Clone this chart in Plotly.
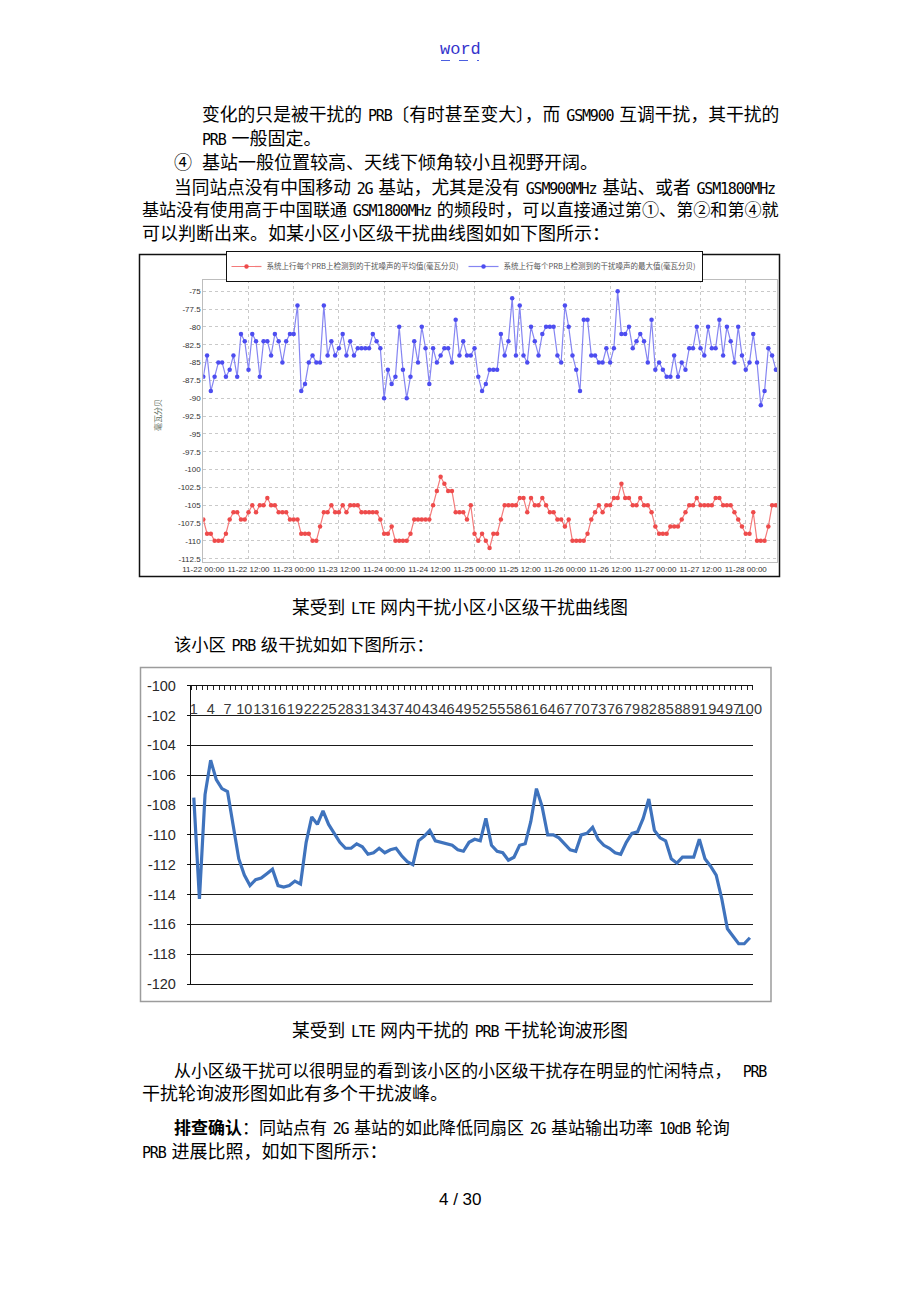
import re
import pandas as pd
import plotly.graph_objects as go

W, H = 920, 1302

# ---------------- Chart 1 data: hourly cell-level interference ----------------
start_time = "2014-11-22 00:00"
avg_dbm = [
    -107, -109, -109, -110, -110, -110, -109, -107, -106, -106, -107, -107,
    -106, -105, -106, -105, -105, -104, -105, -105, -106, -106, -106, -107,
    -107, -107, -109, -109, -109, -110, -110, -108, -106, -106, -105, -106,
    -106, -105, -106, -105, -105, -105, -106, -106, -106, -106, -106, -107,
    -109, -109, -108, -110, -110, -110, -110, -109, -107, -107, -107, -107,
    -107, -105, -103, -101, -102, -103, -103, -106, -106, -106, -107, -105,
    -109, -110, -109, -110, -111, -109, -109, -107, -105, -105, -105, -105,
    -104, -104, -106, -104, -105, -105, -104, -105, -106, -106, -107, -107,
    -108, -107, -110, -110, -110, -110, -109, -107, -106, -105, -106, -105,
    -105, -104, -104, -102, -104, -104, -105, -105, -104, -105, -105, -106,
    -108, -109, -109, -109, -108, -108, -108, -107, -106, -105, -105, -104,
    -105, -105, -105, -105, -104, -104, -105, -105, -105, -106, -107, -108,
    -109, -109, -106, -110, -110, -110, -108, -105, -105,
]
max_dbm = [
    -87, -84, -89, -87, -85, -85, -87, -86, -84, -87, -81, -82,
    -86, -81, -82, -87, -82, -82, -84, -81, -82, -85, -82, -81,
    -81, -77, -89, -88, -85, -84, -85, -85, -77, -84, -82, -84,
    -83, -81, -84, -82, -84, -83, -83, -83, -83, -81, -82, -83,
    -90, -86, -88, -87, -80, -86, -90, -87, -82, -85, -80, -83,
    -88, -83, -85, -84, -83, -83, -85, -79, -84, -82, -84, -84,
    -83, -87, -89, -88, -86, -86, -86, -81, -84, -82, -76, -84,
    -77, -84, -85, -80, -82, -84, -81, -80, -80, -80, -84, -85,
    -77, -80, -84, -86, -89, -79, -79, -84, -84, -85, -85, -83,
    -85, -83, -75, -81, -81, -80, -83, -82, -81, -82, -85, -79,
    -86, -85, -86, -87, -87, -84, -87, -85, -86, -83, -83, -80,
    -83, -84, -80, -83, -83, -79, -84, -80, -82, -85, -80, -84,
    -86, -85, -81, -85, -91, -89, -83, -84, -86,
]
series1_names = [
    "系统上行每个PRB上检测到的干扰噪声的平均值(毫瓦分贝)",
    "系统上行每个PRB上检测到的干扰噪声的最大值(毫瓦分贝)",
]
c1_ytick_vals = [-75, -77.5, -80, -82.5, -85, -87.5, -90, -92.5, -95, -97.5,
                 -100, -102.5, -105, -107.5, -110, -112.5]
c1_ytick_text = ["-75", "-77.5", "-80", "-82.5", "-85", "-87.5", "-90", "-92.5",
                 "-95", "-97.5", "-100", "-102.5", "-105", "-107.5", "-110", "-112.5"]
c1_ytitle = "毫瓦分贝"

# ---------------- Chart 2 data: PRB-level interference ----------------
prb_index = list(range(1, 101))
prb_dbm = [
    -107.5, -114.3, -107.3, -105.0, -106.3, -106.9, -107.1, -109.5, -111.6, -112.7,
    -113.4, -113.0, -112.9, -112.6, -112.3, -113.4, -113.5, -113.4, -113.1, -113.3,
    -110.5, -108.8, -109.3, -108.4, -109.3, -109.9, -110.5, -110.9, -110.9, -110.6,
    -110.8, -111.3, -111.2, -110.9, -111.2, -111.0, -110.9, -111.4, -111.8, -112.0,
    -110.4, -110.1, -109.7, -110.4, -110.5, -110.6, -110.7, -111.0, -111.1, -110.5,
    -110.3, -110.4, -108.9, -110.7, -111.1, -111.2, -111.7, -111.5, -110.7, -110.6,
    -109.1, -106.9, -108.1, -110.0, -110.0, -110.2, -110.6, -111.0, -111.1, -110.0,
    -109.9, -109.5, -110.3, -110.7, -110.9, -111.2, -111.3, -110.5, -109.9, -109.8,
    -108.9, -107.6, -109.7, -110.2, -110.4, -111.6, -111.9, -111.5, -111.5, -111.5,
    -110.3, -111.6, -112.1, -112.7, -114.3, -116.3, -116.8, -117.3, -117.3, -116.9,
]
prb_tick_vals = [1, 4, 7, 10, 13, 16, 19, 22, 25, 28, 31, 34, 37, 40, 43, 46, 49,
                 52, 55, 58, 61, 64, 67, 70, 73, 76, 79, 82, 85, 88, 91, 94, 97, 100]
prb_tick_text = ["1", "4", "7", "10", "13", "16", "19", "22", "25", "28", "31", "34",
                 "37", "40", "43", "46", "49", "52", "55", "58", "61", "64", "67", "70",
                 "73", "76", "79", "82", "85", "88", "91", "94", "97", "100"]
c2_ytick_vals = [-100, -102, -104, -106, -108, -110, -112, -114, -116, -118, -120]
c2_ytick_text = ["-100", "-102", "-104", "-106", "-108", "-110", "-112", "-114",
                 "-116", "-118", "-120"]

# ---------------- Page text ----------------
header_text = "word"
body_lines = [
    # (text, x_px, y_px, cjk_size)
    ("变化的只是被干扰的 PRB〔有时甚至变大〕，而 GSM900 互调干扰，其干扰的", 200, 113, 17.8),
    ("PRB 一般固定。", 200, 137, 18),
    ("④", 172, 161, 18),
    ("基站一般位置较高、天线下倾角较小且视野开阔。", 200, 161, 18),
    ("当同站点没有中国移动 2G 基站，尤其是没有 GSM900MHz 基站、或者 GSM1800MHz", 172, 186, 17.7),
    ("基站没有使用高于中国联通 GSM1800MHz 的频段时，可以直接通过第①、第②和第④就", 140, 209, 17.1),
    ("可以判断出来。如某小区小区级干扰曲线图如如下图所示：", 140, 232, 18),
    ("该小区 PRB 级干扰如如下图所示：", 172, 643, 17.3),
    ("从小区级干扰可以很明显的看到该小区的小区级干扰存在明显的忙闲特点，  PRB", 172, 1069, 16.9),
    ("干扰轮询波形图如此有多个干扰波峰。", 140, 1092, 18),
    ("<b>排查确认</b>：同站点有 2G 基站的如此降低同扇区 2G 基站输出功率 10dB 轮询", 172, 1126, 17.0),
    ("PRB 进展比照，如如下图所示：", 140, 1150, 18),
]
captions = [
    ("某受到 LTE 网内干扰小区小区级干扰曲线图", 460, 606),
    ("某受到 LTE 网内干扰的 PRB 干扰轮询波形图", 460, 1029),
]
page_number = "4 / 30"

CJK = "Noto Sans CJK SC"
LAT = "DejaVu Sans Mono"
CJK_SIZE = 17.7
LAT_SIZE = 15
GAP = "\u2004"  # three-per-em space: keeps the gap around Latin runs visible


def rich(s, size=LAT_SIZE):
    def rep(m):
        return ('<span style="font-family:%s;font-size:%spx;letter-spacing:-1.2px">%s</span>'
                % (LAT, size, m.group(0)))
    parts = re.split(r"(<[^>]+>)", s)
    out = []
    for p in parts:
        if p.startswith("<"):
            out.append(p)
        else:
            q = re.sub(r"[A-Za-z0-9]+(?: [A-Za-z0-9]+)*", rep, p)
            # replace plain spaces that sit outside the span markup
            segs = re.split(r"(<[^>]+>)", q)
            segs = [g if g.startswith("<") else g.replace(" ", GAP) for g in segs]
            out.append("".join(segs))
    return "".join(out)


def px(x):
    return x / W


def py(y):
    return 1 - y / H


times = pd.date_range(start_time, periods=len(avg_dbm), freq="h")

fig = go.Figure()

fig.add_trace(go.Scatter(
    x=times, y=avg_dbm, name=series1_names[0], mode="lines+markers",
    line=dict(color="#f47a7a", width=1.2),
    marker=dict(color="#ee4b4b", size=4.5),
    xaxis="x", yaxis="y",
))
fig.add_trace(go.Scatter(
    x=times, y=max_dbm, name=series1_names[1], mode="lines+markers",
    line=dict(color="#8585f2", width=1.2),
    marker=dict(color="#4d4df0", size=4.5),
    xaxis="x", yaxis="y",
))
fig.add_trace(go.Scatter(
    x=prb_index, y=prb_dbm, mode="lines", showlegend=False,
    line=dict(color="#3f73bd", width=3.2),
    xaxis="x2", yaxis="y2",
))

grid1 = "#c9c9c9"
fig.update_layout(
    width=W, height=H, autosize=False,
    margin=dict(l=0, r=0, t=0, b=0, pad=0, autoexpand=False),
    paper_bgcolor="white", plot_bgcolor="white",
    font=dict(family=CJK, color="#000"),
    showlegend=True,
    legend=dict(
        orientation="h", x=px(464), xanchor="center", y=py(266.5), yanchor="middle",
        font=dict(family=CJK, size=7.5, color="#555"),
        bordercolor="#111", borderwidth=1, bgcolor="white",
        itemwidth=30, tracegroupgap=0,
    ),
    xaxis=dict(
        domain=[px(203.3), px(777)],
        anchor="y",
        type="date",
        range=[times[0], times[0] + pd.Timedelta(hours=152.3)],
        tick0=times[0], dtick=12 * 3600 * 1000,
        tickformat="%m-%d %H:%M", tickangle=0,
        tickfont=dict(family="Liberation Sans", size=8, color="#333"),
        showgrid=True, gridcolor=grid1, griddash="dot", gridwidth=1,
        showline=True, linecolor="#bdbdbd", linewidth=1, mirror=True,
        ticks="", zeroline=False, automargin=False,
    ),
    yaxis=dict(
        domain=[py(561.7), py(280)],
        anchor="x",
        range=[-112.92, -73.43],
        tickmode="array", tickvals=c1_ytick_vals, ticktext=c1_ytick_text,
        tickfont=dict(family="Liberation Sans", size=8, color="#333"),
        showgrid=True, gridcolor=grid1, griddash="dot", gridwidth=1,
        showline=True, linecolor="#bdbdbd", linewidth=1, mirror=True,
        ticks="", zeroline=False, automargin=False,
    ),
    xaxis2=dict(
        domain=[px(191), px(752.7)],
        anchor="y2", side="top",
        range=[0.5, 100.5],
        tickmode="array", tickvals=prb_tick_vals, ticktext=prb_tick_text,
        tickangle=0,
        ticks="", ticklabelposition="inside", ticklabeloverflow="allow",
        ticklabelstandoff=18,
        tickfont=dict(family="Liberation Sans", size=14.5, color="#3a3a3a"),
        minor=dict(tickmode="linear", tick0=0.5, dtick=1, ticks="inside",
                   ticklen=4, tickcolor="#222", tickwidth=1),
        showgrid=False, zeroline=False, automargin=False,
        showline=True, linecolor="#111", linewidth=1, mirror=True,
    ),
    yaxis2=dict(
        domain=[py(984), py(685.7)],
        anchor="x2",
        range=[-120, -100],
        tickmode="array", tickvals=c2_ytick_vals, ticktext=c2_ytick_text,
        tickfont=dict(family="Liberation Sans", size=14.5, color="#2a2a2a"),
        ticks="outside", ticklen=3, tickcolor="#111", ticklabelstandoff=8,
        showgrid=True, gridcolor="#1a1a1a", gridwidth=1,
        showline=True, linecolor="#111", linewidth=1.3,
        zeroline=False, automargin=False,
    ),
)

shapes = [
    dict(type="rect", xref="paper", yref="paper",
         x0=px(139.5), x1=px(779.5), y0=py(576.5), y1=py(254.5),
         line=dict(color="#111", width=1.5)),
    dict(type="rect", xref="paper", yref="paper",
         x0=px(140.5), x1=px(771), y0=py(1001.5), y1=py(667.5),
         line=dict(color="#9c9c9c", width=1.5)),
    dict(type="line", xref="paper", yref="paper",
         x0=px(441), x1=px(479), y0=py(60.5), y1=py(60.5),
         line=dict(color="#4b5fe0", width=1.2, dash="dash")),
]
fig.update_layout(shapes=shapes)

ann = []
ann.append(dict(text=header_text, x=px(460), y=py(50), xref="paper", yref="paper",
                xanchor="center", yanchor="middle", showarrow=False,
                font=dict(family="Liberation Mono", size=17, color="#3434cc")))
for text, x, y, size in body_lines:
    ann.append(dict(text=rich(text), x=px(x), y=py(y), xref="paper", yref="paper",
                    xanchor="left", yanchor="middle", showarrow=False,
                    font=dict(family=CJK, size=size, color="#000")))
for text, x, y in captions:
    ann.append(dict(text=rich(text), x=px(x), y=py(y), xref="paper", yref="paper",
                    xanchor="center", yanchor="middle", showarrow=False,
                    font=dict(family=CJK, size=CJK_SIZE, color="#000")))
ann.append(dict(text=page_number, x=px(460), y=py(1199), xref="paper",
                yref="paper", xanchor="center", yanchor="middle", showarrow=False,
                font=dict(family="Liberation Sans", size=17, color="#000")))
ann.append(dict(text=c1_ytitle, x=px(158), y=py(415), xref="paper", yref="paper",
                xanchor="center", yanchor="middle", showarrow=False, textangle=-90,
                font=dict(family=CJK, size=8, color="#5f705f")))
fig.update_layout(annotations=ann)

fig.write_html(
    "out.html",
    config={"displayModeBar": False},
    post_script="document.body.style.margin='0px';document.body.style.padding='0px';",
)
